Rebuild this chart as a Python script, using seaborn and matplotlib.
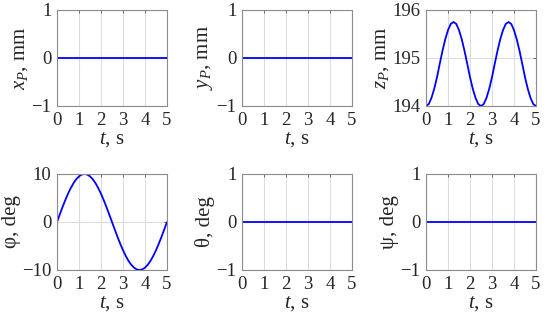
import numpy as np
import pandas as pd
import matplotlib
matplotlib.use("Agg")
import matplotlib.pyplot as plt
import seaborn as sns

# time samples, s (step 0.125)
t = [0.0, 0.125, 0.25, 0.375, 0.5, 0.625, 0.75, 0.875, 1.0, 1.125,
     1.25, 1.375, 1.5, 1.625, 1.75, 1.875, 2.0, 2.125, 2.25, 2.375,
     2.5, 2.625, 2.75, 2.875, 3.0, 3.125, 3.25, 3.375, 3.5, 3.625,
     3.75, 3.875, 4.0, 4.125, 4.25, 4.375, 4.5, 4.625, 4.75, 4.875, 5.0]

x_p = [0.0] * 41
y_p = [0.0] * 41
z_p = [194.00, 194.04, 194.17, 194.36, 194.60, 194.88, 195.15, 195.39, 195.58, 195.71,
       195.75, 195.71, 195.58, 195.39, 195.15, 194.88, 194.60, 194.36, 194.17, 194.04,
       194.00, 194.04, 194.17, 194.36, 194.60, 194.88, 195.15, 195.39, 195.58, 195.71,
       195.75, 195.71, 195.58, 195.39, 195.15, 194.88, 194.60, 194.36, 194.17, 194.04,
       194.00]
phi = [0.00, 1.56, 3.09, 4.54, 5.88, 7.07, 8.09, 8.91, 9.51, 9.88,
       10.00, 9.88, 9.51, 8.91, 8.09, 7.07, 5.88, 4.54, 3.09, 1.56,
       0.00, -1.56, -3.09, -4.54, -5.88, -7.07, -8.09, -8.91, -9.51, -9.88,
       -10.00, -9.88, -9.51, -8.91, -8.09, -7.07, -5.88, -4.54, -3.09, -1.56,
       0.00]
theta = [0.0] * 41
psi = [0.0] * 41

ylabels = [r"$x_P$, mm", r"$y_P$, mm", r"$z_P$, mm",
           "φ, deg", "θ, deg", "ψ, deg"]
series = [x_p, y_p, z_p, phi, theta, psi]
ylims = [(-1, 1), (-1, 1), (194, 196), (-10, 10), (-1, 1), (-1, 1)]
yticks = [[-1, 0, 1], [-1, 0, 1], [194, 195, 196],
          [-10, 0, 10], [-1, 0, 1], [-1, 0, 1]]
xticks = [0, 1, 2, 3, 4, 5]

sns.set_style("white")
plt.rcParams["font.family"] = ["Liberation Serif", "DejaVu Serif"]
plt.rcParams["mathtext.fontset"] = "custom"
plt.rcParams["mathtext.rm"] = "Liberation Serif"
plt.rcParams["mathtext.it"] = "Liberation Serif:italic"
plt.rcParams["axes.unicode_minus"] = True

fig = plt.figure(figsize=(5.5, 3.22), dpi=100)
W, H = 550, 322
lefts = [57, 242, 426]
tops = [10, 174]
aw, ah = 110, 96

for i in range(6):
    r, c = divmod(i, 3)
    ax = fig.add_axes([lefts[c] / W, 1 - (tops[r] + ah) / H, aw / W, ah / H])
    df = pd.DataFrame({"t": t, "v": series[i]})
    sns.lineplot(data=df, x="t", y="v", ax=ax, color="#0000ff", linewidth=1.3)
    ax.set_xlim(0, 5)
    ax.set_ylim(*ylims[i])
    ax.set_xticks(xticks)
    ax.set_yticks(yticks[i])
    ax.grid(True, color="#dcdcdc", linewidth=0.8)
    ax.set_axisbelow(True)
    for s in ax.spines.values():
        s.set_color("#8c8c8c")
        s.set_linewidth(0.8)
    ax.tick_params(direction="in", length=2.5, width=0.6, color="#555555",
                   labelsize=13.5, top=True, right=True,
                   labeltop=False, labelright=False)
    ax.tick_params(axis="x", pad=4)
    ax.tick_params(axis="y", pad=4)
    ax.set_xlabel(r"$t$, s", fontsize=15, labelpad=1)
    ax.set_ylabel(ylabels[i], fontsize=15, labelpad=1)

fig.savefig("out.png", dpi=100)
